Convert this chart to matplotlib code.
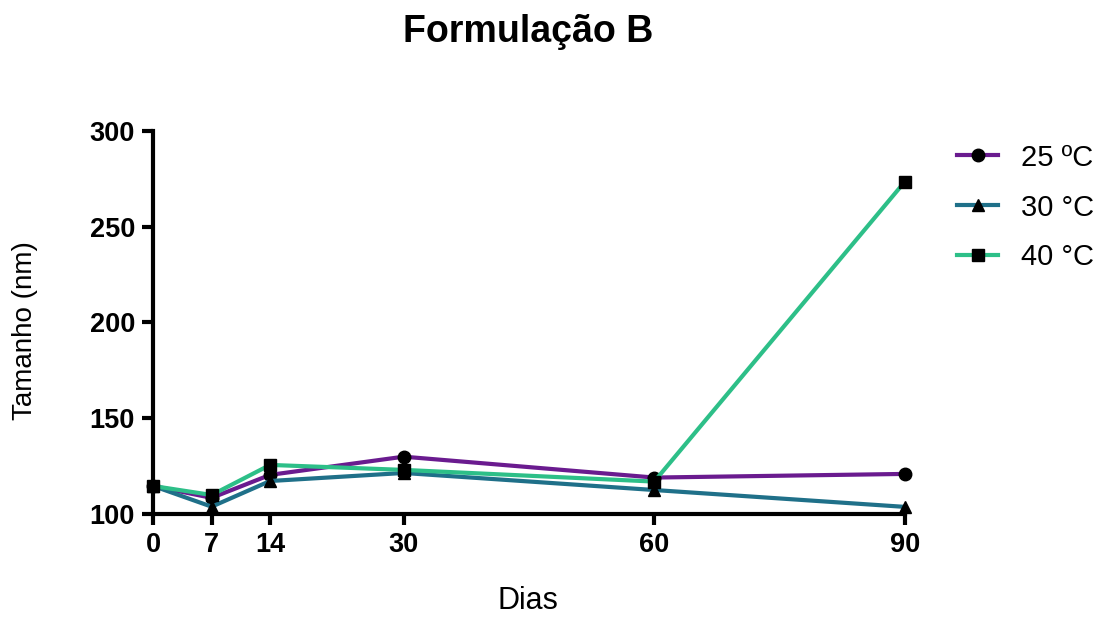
import matplotlib
matplotlib.use("Agg")
import matplotlib.pyplot as plt

plt.rcParams['font.family'] = ['Liberation Sans', 'DejaVu Sans']

days = [0, 7, 14, 30, 60, 90]
t25 = [114.6, 108.4, 120.4, 129.9, 119.0, 120.9]
t30 = [114.6, 103.8, 117.2, 121.4, 112.5, 103.7]
t40 = [114.6, 109.9, 125.6, 123.0, 116.9, 273.4]
labels = ['25 ºC', '30 °C', '40 °C']
colors = ['#6A1B8F', '#1F7089', '#2DBF88']
markers = ['o', '^', 's']

fig = plt.figure(figsize=(11.02, 6.17), dpi=100)
ax = fig.add_axes([0.139, 0.167, 0.682, 0.621])

for ys, lab, c, m in zip([t25, t30, t40], labels, colors, markers):
    ax.plot(days, ys, color=c, lw=3, marker=m, markersize=9,
            markerfacecolor='black', markeredgecolor='black', label=lab,
            clip_on=False, zorder=3)

ax.set_xlim(0, 90)
ax.set_ylim(100, 300)
ax.set_xticks(days)
ax.set_yticks([100, 150, 200, 250, 300])
for s in ['top', 'right']:
    ax.spines[s].set_visible(False)
for s in ['left', 'bottom']:
    ax.spines[s].set_linewidth(3)
ax.tick_params(width=3, length=8, labelsize=19.5, pad=5)
for lbl in ax.get_xticklabels() + ax.get_yticklabels():
    lbl.set_fontweight('bold')

fig.text(0.479, 1 - 601 / 617, 'Dias', ha='center', va='center', fontsize=22)
fig.text(25 / 1102, 1 - 331 / 617, 'Tamanho (nm)', ha='center', va='center',
         rotation=90, fontsize=20)
fig.text(0.479, 1 - 32 / 617, 'Formulação B', ha='center', va='center',
         fontsize=27, fontweight='bold')

ax.legend(loc='upper left', bbox_to_anchor=(1.035, 1.035), frameon=False,
          fontsize=21, handlelength=1.4, labelspacing=0.75, handletextpad=0.8)

fig.savefig('out.png', dpi=100)
